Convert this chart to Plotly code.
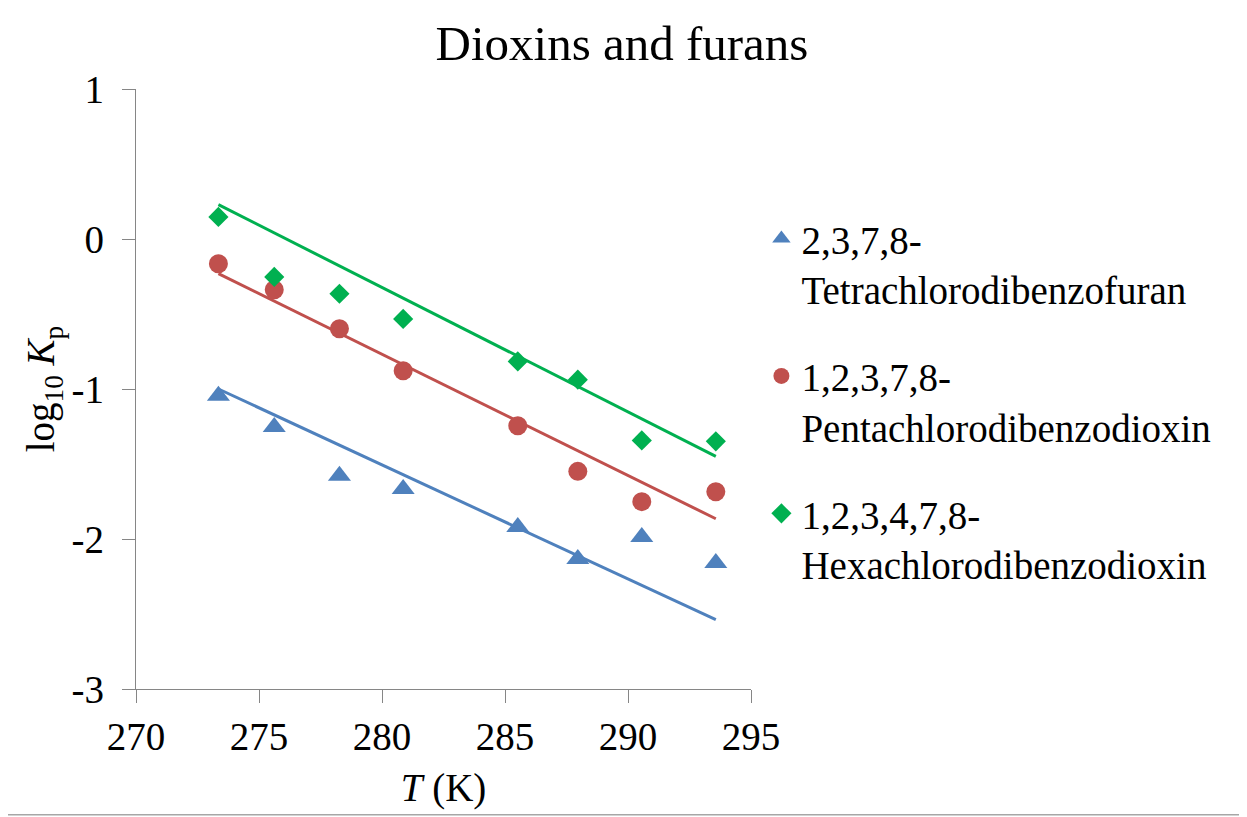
import plotly.graph_objects as go

# Temperature (K)
T = [273.35, 275.62, 278.27, 280.86, 285.52, 287.96, 290.56, 293.57]

# log10 Kp data
tcdf = [-1.045, -1.253, -1.578, -1.667, -1.920, -2.133, -1.987, -2.160]
pecdd = [-0.165, -0.338, -0.598, -0.878, -1.245, -1.549, -1.751, -1.685]
hxcdd = [0.147, -0.253, -0.365, -0.533, -0.816, -0.938, -1.343, -1.349]

# trend-line end values (at first and last temperature)
tcdf_line = [-1.00, -2.538]
pecdd_line = [-0.231, -1.865]
hxcdd_line = [0.229, -1.449]

x_ticks = [270, 275, 280, 285, 290, 295]
y_ticks = [-3, -2, -1, 0, 1]
y_ticktext = ["-3", "-2", "-1", "0", "1"]

names = ["2,3,7,8-<br>Tetrachlorodibenzofuran",
         "1,2,3,7,8-<br>Pentachlorodibenzodioxin",
         "1,2,3,4,7,8-<br>Hexachlorodibenzodioxin"]
colors = ["#4F81BD", "#C0504D", "#00B050"]
symbols = ["triangle-up", "circle", "diamond"]
sizes = [20, 19, 15.5]

FONT = "Liberation Serif"

fig = go.Figure()
series = [tcdf, pecdd, hxcdd]
lines = [tcdf_line, pecdd_line, hxcdd_line]
for i in range(3):
    fig.add_trace(go.Scatter(
        x=[T[0], T[-1]], y=lines[i], mode="lines",
        line=dict(color=colors[i], width=3), showlegend=False,
        hoverinfo="skip", legendgroup=f"g{i}"))
for i in range(3):
    fig.add_trace(go.Scatter(
        x=T, y=series[i], mode="markers", name=names[i],
        marker=dict(symbol=symbols[i], size=sizes[i], color=colors[i]),
        legendgroup=f"g{i}"))

OFF = 8  # page body margin
W, H = 1247, 817
L, R, TOP, BOT = 136.3 - OFF, 750.6 - OFF, 89.3 - OFF, 689.3 - OFF
pw, ph = R - L, BOT - TOP

def px(x):
    return (x - L) / pw

def py(y):
    return (BOT - y) / ph

fig.update_layout(
    width=W, height=H,
    margin=dict(l=L, r=W - R, t=TOP, b=H - BOT, pad=0, autoexpand=False),
    paper_bgcolor="white", plot_bgcolor="white",
    font=dict(family=FONT, size=39, color="black"),
    title=dict(text="Dioxins and furans", x=(622 - OFF) / W, xref="container",
               xanchor="center", y=1 - 35 / H, yanchor="middle",
               font=dict(family=FONT, size=49, color="black")),
    legend=dict(x=px(753), y=py(199), xanchor="left", yanchor="top",
                font=dict(family=FONT, size=39, color="black"),
                valign="top", tracegroupgap=33, traceorder="grouped",
                bgcolor="rgba(0,0,0,0)"),
    showlegend=True,
)

fig.update_xaxes(range=[270, 295], tickvals=x_ticks, automargin=False,
                 showgrid=False, zeroline=False, showline=True,
                 linecolor="#868686", linewidth=1.3, ticks="outside", ticklen=13,
                 tickcolor="#868686", tickwidth=1.3,
                 tickfont=dict(family=FONT, size=39, color="black"),
                 title=dict(text="<i>T</i> (K)", standoff=16,
                            font=dict(family=FONT, size=39, color="black")))
fig.update_yaxes(range=[-3, 1], tickvals=y_ticks, ticktext=y_ticktext, automargin=False,
                 showgrid=False, zeroline=False, showline=True,
                 linecolor="#868686", linewidth=1.3, ticks="outside", ticklen=13,
                 tickcolor="#868686", tickwidth=1.3,
                 tickfont=dict(family=FONT, size=39, color="black"),
                 ticklabelstandoff=10,
                 title=dict(text="log<sub>10</sub> <i>K</i><sub>p</sub>", standoff=4,
                            font=dict(family=FONT, size=39, color="black")))

# chart-area border
fig.add_shape(type="rect", xref="paper", yref="paper",
              x0=px(1 - OFF), x1=px(1260), y0=py(815 - OFF), y1=py(0.5 - OFF),
              line=dict(color="#a6a6a6", width=1.5), layer="below")

fig.write_html("out.html")
